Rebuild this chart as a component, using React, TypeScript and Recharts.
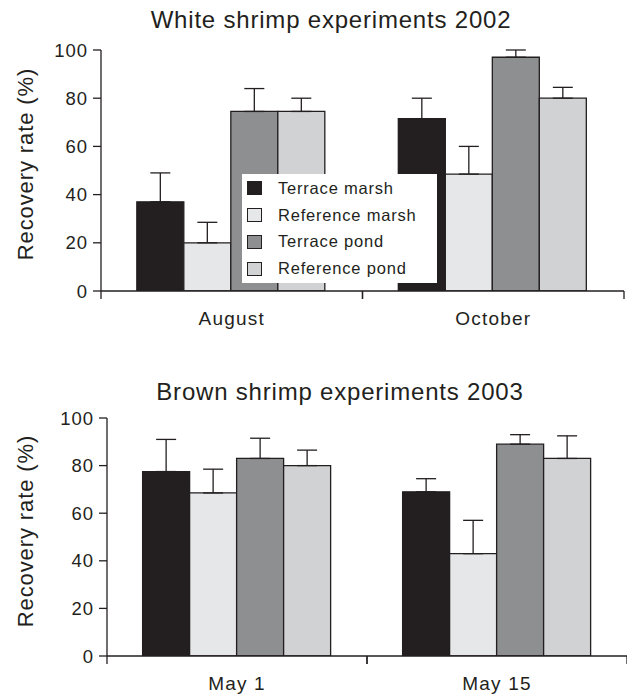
import React from 'react';
import { BarChart, Bar, XAxis, YAxis, ErrorBar, Legend } from 'recharts';

// White shrimp, 2002 (mean recovery %, upper standard error)
const whiteMonths = ['August', 'October'];
const whiteTerraceMarsh = [37, 71.5];
const whiteReferenceMarsh = [20, 48.5];
const whiteTerracePond = [74.5, 97];
const whiteReferencePond = [74.5, 80];
const whiteTerraceMarshErr = [12, 8.5];
const whiteReferenceMarshErr = [8.5, 11.5];
const whiteTerracePondErr = [9.5, 3];
const whiteReferencePondErr = [5.5, 4.5];

// Brown shrimp, 2003
const brownDates = ['May 1', 'May 15'];
const brownTerraceMarsh = [77.5, 69];
const brownReferenceMarsh = [68.5, 43];
const brownTerracePond = [83, 89];
const brownReferencePond = [80, 83];
const brownTerraceMarshErr = [13.5, 5.5];
const brownReferenceMarshErr = [10, 14];
const brownTerracePondErr = [8.5, 4];
const brownReferencePondErr = [6.5, 9.5];

const yTicks = [0, 20, 40, 60, 80, 100];

const INK = '#231f20';
const FONT = '"Liberation Sans", Arial, Helvetica, sans-serif';

const SERIES = [
  { key: 'terraceMarsh', name: 'Terrace marsh', fill: '#231f20' },
  { key: 'referenceMarsh', name: 'Reference marsh', fill: '#e6e7e8' },
  { key: 'terracePond', name: 'Terrace pond', fill: '#8e8f91' },
  { key: 'referencePond', name: 'Reference pond', fill: '#d1d2d4' },
];

function buildRows(cats: string[], values: number[][], errors: number[][]) {
  return cats.map((cat, i) => {
    const row: Record<string, any> = { cat };
    SERIES.forEach((s, j) => {
      row[s.key] = values[j][i];
      row[s.key + 'Err'] = [0, errors[j][i]];
    });
    return row;
  });
}

const whiteRows = buildRows(
  whiteMonths,
  [whiteTerraceMarsh, whiteReferenceMarsh, whiteTerracePond, whiteReferencePond],
  [whiteTerraceMarshErr, whiteReferenceMarshErr, whiteTerracePondErr, whiteReferencePondErr]
);
const brownRows = buildRows(
  brownDates,
  [brownTerraceMarsh, brownReferenceMarsh, brownTerracePond, brownReferencePond],
  [brownTerraceMarshErr, brownReferenceMarshErr, brownTerracePondErr, brownReferencePondErr]
);

// Category tick: label centred in the band, short marks at the band edges
const makeBandTick = (halfBand: number) => (props: any) => {
  const { x, y, payload } = props;
  return (
    <g>
      <line x1={x - halfBand} x2={x - halfBand} y1={y - 8} y2={y} stroke={INK} strokeWidth={1.3} />
      <line x1={x + halfBand} x2={x + halfBand} y1={y - 8} y2={y} stroke={INK} strokeWidth={1.3} />
      <text
        x={x}
        y={y + 26}
        textAnchor="middle"
        fontSize={19}
        letterSpacing={1.2}
        fill={INK}
        fontFamily={FONT}
      >
        {payload.value}
      </text>
    </g>
  );
};

const yLabel = (cx: number, cy: number) => () => (
  <text
    transform={`translate(${cx},${cy}) rotate(-90)`}
    textAnchor="middle"
    fontSize={22}
    letterSpacing={0.9}
    fill={INK}
    fontFamily={FONT}
  >
    Recovery rate (%)
  </text>
);

// Legend entries follow the series order
const LegendBox = (props: any) => {
  const items = [...(props.payload || [])].sort(
    (a: any, b: any) =>
      SERIES.findIndex((s) => s.name === a.value) - SERIES.findIndex((s) => s.name === b.value)
  );
  return (
    <div style={{ width: '100%', height: '100%', background: '#fff', paddingTop: 0.5, boxSizing: 'border-box' }}>
      {items.map((e: any) => {
        const s = SERIES.find((d) => d.name === e.value);
        return (
          <div key={e.value} style={{ display: 'flex', alignItems: 'center', height: 26.9 }}>
            <span
              style={{
                display: 'inline-block',
                width: 15,
                height: 14,
                boxSizing: 'border-box',
                border: `1px solid ${INK}`,
                background: s ? s.fill : e.color,
                marginLeft: 5,
                marginRight: 16,
              }}
            />
            <span style={{ fontSize: 16.5, letterSpacing: 0.8, color: INK, lineHeight: 1, fontFamily: FONT }}>
              {e.value}
            </span>
          </div>
        );
      })}
    </div>
  );
};

const titleStyle = (center: number, top: number): React.CSSProperties => ({
  position: 'absolute',
  left: center - 250,
  top,
  width: 500,
  textAlign: 'center',
  fontSize: 24,
  lineHeight: 1,
  letterSpacing: 0.8,
  color: INK,
  fontFamily: FONT,
  whiteSpace: 'nowrap',
});

function Panel(props: {
  rows: any[];
  width: number;
  height: number;
  top: number;
  plotLeft: number;
  plotRight: number;
  plotTop: number;
  axisHeight: number;
  labelCy: number;
  legend?: boolean;
}) {
  const { rows, width, height, plotLeft, plotRight, plotTop, axisHeight, labelCy, legend } = props;
  const halfBand = (plotRight - plotLeft) / rows.length / 2;
  return (
    <div style={{ position: 'absolute', left: 0, top: props.top, width, height }}>
      <BarChart
        width={width}
        height={height}
        data={rows}
        margin={{ top: plotTop, right: width - plotRight, left: 0, bottom: 0 }}
        barCategoryGap="13.7%"
        barGap={0}
      >
        <XAxis
          dataKey="cat"
          height={axisHeight}
          axisLine={{ stroke: INK, strokeWidth: 1.3 }}
          tickLine={false}
          tickSize={8}
          tickMargin={0}
          interval={0}
          tick={makeBandTick(halfBand)}
        />
        <YAxis
          width={plotLeft}
          domain={[0, 100]}
          ticks={yTicks}
          interval={0}
          allowDataOverflow
          axisLine={{ stroke: INK, strokeWidth: 1.3 }}
          tickLine={{ stroke: INK, strokeWidth: 1.3 }}
          tickSize={8}
          tickMargin={5}
          tick={{ fontSize: 18.5, fill: INK, letterSpacing: 1, fontFamily: FONT }}
          label={{ value: 'Recovery rate (%)', content: yLabel(33, labelCy) }}
        />
        {legend && (
          <Legend
            layout="vertical"
            verticalAlign="middle"
            align="center"
            width={195}
            height={109}
            content={LegendBox}
            wrapperStyle={{ position: 'absolute', left: 242, top: 174, width: 195, height: 109 }}
          />
        )}
        {SERIES.map((s) => (
          <Bar
            key={s.key}
            dataKey={s.key}
            name={s.name}
            fill={s.fill}
            stroke={INK}
            strokeWidth={1.3}
            isAnimationActive={false}
          >
            <ErrorBar
              dataKey={s.key + 'Err'}
              direction="y"
              width={10}
              stroke={INK}
              strokeWidth={1.3}
              isAnimationActive={false}
            />
          </Bar>
        ))}
      </BarChart>
    </div>
  );
}

export default function App() {
  return (
    <div style={{ position: 'absolute', left: 0, top: 0, width: 627, height: 696, background: '#fff' }}>
      <Panel
        rows={whiteRows}
        width={627}
        height={340}
        top={0}
        plotLeft={101}
        plotRight={624}
        plotTop={50}
        axisHeight={49}
        labelCy={164}
        legend
      />
      <div style={titleStyle(331, 8.2)}>White shrimp experiments 2002</div>
      <Panel
        rows={brownRows}
        width={627}
        height={356}
        top={340}
        plotLeft={107}
        plotRight={627}
        plotTop={78}
        axisHeight={40}
        labelCy={191}
      />
      <div style={titleStyle(340, 379.7)}>Brown shrimp experiments 2003</div>
    </div>
  );
}
